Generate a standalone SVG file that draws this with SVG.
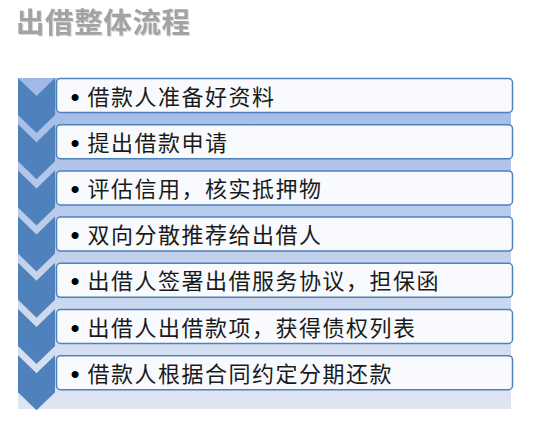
<svg xmlns="http://www.w3.org/2000/svg" width="536" height="434" viewBox="0 0 536 434">
<defs>
<linearGradient id="bg" x1="0" y1="0" x2="0" y2="1">
<stop offset="0" stop-color="#9fb9e5"/>
<stop offset="1" stop-color="#dfe6f3"/>
</linearGradient>
<filter id="shadow" x="-5%" y="-5%" width="110%" height="115%">
<feFlood flood-color="#d4d8e0"/>
<feComposite in2="SourceAlpha" operator="in"/>
<feOffset dx="1" dy="1" result="sh"/>
<feMerge><feMergeNode in="sh"/><feMergeNode in="SourceGraphic"/></feMerge>
</filter>
<style>
.chev{fill:#4f81bd;}
.box{fill:#f8fafd;stroke:#4f81bd;stroke-width:1.5;}
.txt{font-family:"Noto Sans CJK SC","Noto Sans",sans-serif;font-size:22px;letter-spacing:1.5px;fill:#1a1a1a;}
.bul{font-family:"Liberation Sans",Arial,sans-serif;font-size:26px;fill:#000;}
.title{font-family:"Noto Sans CJK SC",sans-serif;font-size:28.5px;letter-spacing:0.6px;font-weight:bold;fill:#a3a3a3;}
</style>
</defs>
<rect width="536" height="434" fill="#ffffff"/>
<g id="title">
<text class="title" x="16" y="33.2" filter="url(#shadow)">出借整体流程</text>
</g>
<rect id="background" x="18" y="78" width="493" height="331" fill="url(#bg)"/>
<g id="connectors"></g>
<g id="node1">
<polygon class="chev" points="18,78 36.5,96 55,78 55,115 36.5,133 18,115"/>
<rect class="box" x="56.5" y="78.5" width="456" height="34" rx="4"/>
<text class="bul" x="70.5" y="105.5">•</text>
<text class="txt" x="87.5" y="104.5">借款人准备好资料</text>
</g>
<g id="node2">
<polygon class="chev" points="18,124.2 36.5,142.2 55,124.2 55,161.2 36.5,179.2 18,161.2"/>
<rect class="box" x="56.5" y="124.7" width="456" height="34" rx="4"/>
<text class="bul" x="70.5" y="151.7">•</text>
<text class="txt" x="87.5" y="150.7">提出借款申请</text>
</g>
<g id="node3">
<polygon class="chev" points="18,170.4 36.5,188.4 55,170.4 55,207.4 36.5,225.4 18,207.4"/>
<rect class="box" x="56.5" y="170.9" width="456" height="34" rx="4"/>
<text class="bul" x="70.5" y="197.9">•</text>
<text class="txt" x="87.5" y="196.9">评估信用，核实抵押物</text>
</g>
<g id="node4">
<polygon class="chev" points="18,216.6 36.5,234.6 55,216.6 55,253.6 36.5,271.6 18,253.6"/>
<rect class="box" x="56.5" y="217.1" width="456" height="34" rx="4"/>
<text class="bul" x="70.5" y="244.1">•</text>
<text class="txt" x="87.5" y="243.1">双向分散推荐给出借人</text>
</g>
<g id="node5">
<polygon class="chev" points="18,262.8 36.5,280.8 55,262.8 55,299.8 36.5,317.8 18,299.8"/>
<rect class="box" x="56.5" y="263.3" width="456" height="34" rx="4"/>
<text class="bul" x="70.5" y="290.3">•</text>
<text class="txt" x="87.5" y="289.3">出借人签署出借服务协议，担保函</text>
</g>
<g id="node6">
<polygon class="chev" points="18,309 36.5,327 55,309 55,346 36.5,364 18,346"/>
<rect class="box" x="56.5" y="309.5" width="456" height="34" rx="4"/>
<text class="bul" x="70.5" y="336.5">•</text>
<text class="txt" x="87.5" y="335.5">出借人出借款项，获得债权列表</text>
</g>
<g id="node7">
<polygon class="chev" points="18,355.2 36.5,373.2 55,355.2 55,392.2 36.5,410.2 18,392.2"/>
<rect class="box" x="56.5" y="355.7" width="456" height="34" rx="4"/>
<text class="bul" x="70.5" y="382.7">•</text>
<text class="txt" x="87.5" y="381.7">借款人根据合同约定分期还款</text>
</g>
</svg>
